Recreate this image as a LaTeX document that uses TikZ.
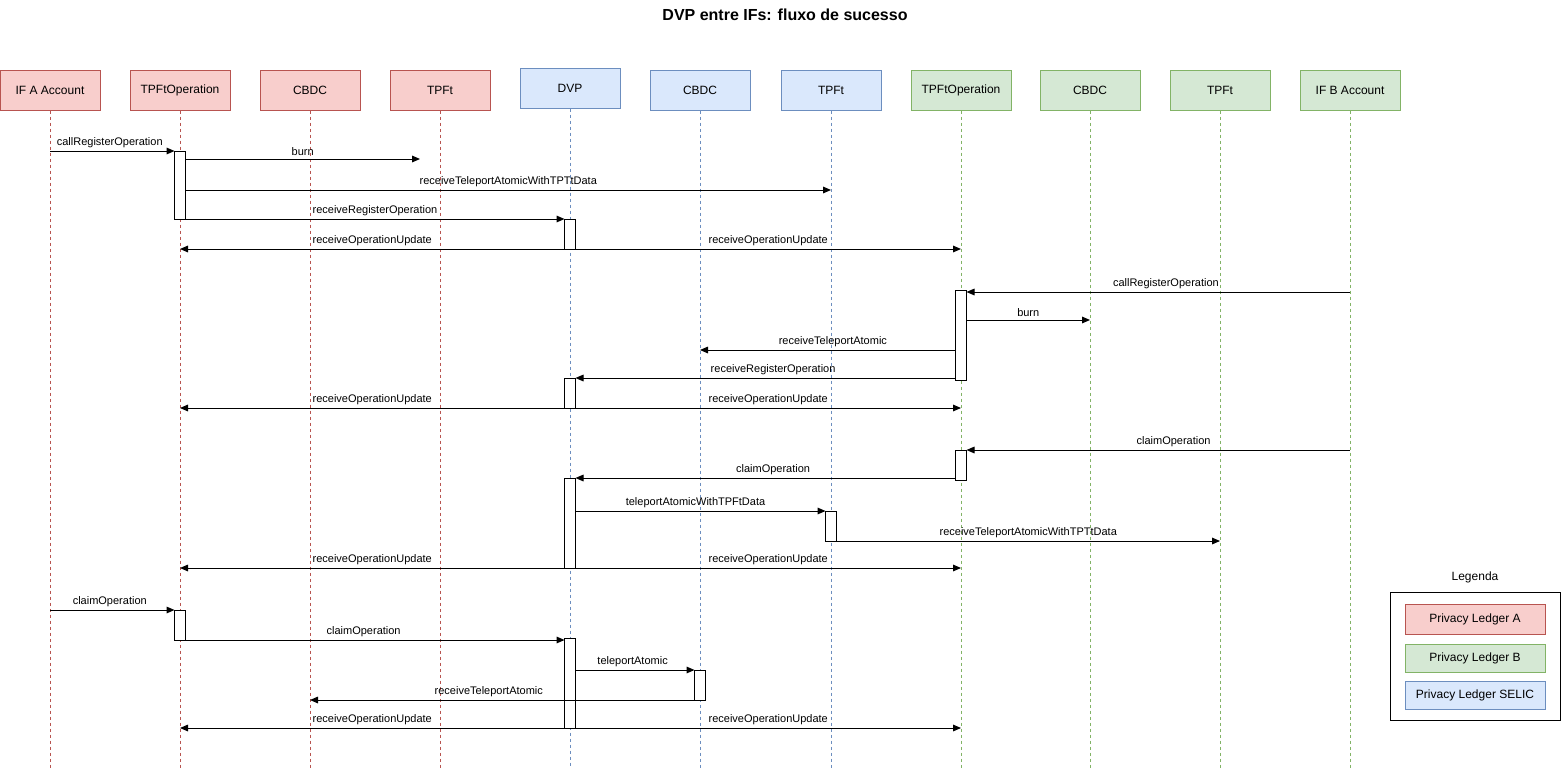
\documentclass[tikz,border=0pt]{standalone}
\usepackage{fontspec}
\setmainfont{Liberation Sans}
\usepackage{xcolor}
\definecolor{ledgerAfill}{HTML}{F8CECC}
\definecolor{ledgerAline}{HTML}{B85450}
\definecolor{ledgerBfill}{HTML}{D5E8D4}
\definecolor{ledgerBline}{HTML}{82B366}
\definecolor{selicfill}{HTML}{DAE8FC}
\definecolor{selicline}{HTML}{6C8EBF}
\usepackage{tikz}
\usetikzlibrary{positioning, arrows.meta, calc}

\begin{document}
\begin{tikzpicture}[x=0.75pt, y=-0.75pt, >={Triangle[length=6pt, width=5pt]}, line width=0.75pt,
    every node/.style={font=\fontsize{8.25}{10}\selectfont},
    head/.style={draw, rectangle, line width=0.75pt, minimum width=75pt, minimum height=30pt, font=\fontsize{9}{11}\selectfont},
    headA/.style={head, fill=ledgerAfill, draw=ledgerAline},
    headB/.style={head, fill=ledgerBfill, draw=ledgerBline},
    headS/.style={head, fill=selicfill, draw=selicline},
    life/.style={line width=0.6pt, dash pattern=on 2.25pt off 2.25pt},
    actbar/.style={draw=black, fill=white, line width=0.75pt, minimum width=8.25pt, inner sep=0pt, outer sep=0pt},
    msg/.style={->, black},
    lbl/.style={above, inner sep=2pt},
    legbox/.style={draw, rectangle, line width=0.75pt, minimum width=105pt, minimum height=21pt, font=\fontsize{9}{11}\selectfont}]
    \useasboundingbox (0,0) rectangle (1561,771);

    % Title
    \node [font=\bfseries\fontsize{12}{14}\selectfont] (title) at (785,15) {DVP entre IFs: fluxo de sucesso};

    % Lifeline heads: Privacy Ledger A
    \node [headA] (ifa) at (50,90) {IF A Account};
    \node [headA] (tpfopa) at (180,90) {TPFtOperation};
    \node [headA] (cbdca) at (310,90) {CBDC};
    \node [headA] (tpfa) at (440,90) {TPFt};

    % Lifeline heads: Privacy Ledger SELIC
    \node [headS] (dvp) at (570,88) {DVP};
    \node [headS] (cbdcs) at (700,90) {CBDC};
    \node [headS] (tpfs) at (831,90) {TPFt};

    % Lifeline heads: Privacy Ledger B
    \node [headB] (tpfopb) at (961,90) {TPFtOperation};
    \node [headB] (cbdcb) at (1090,90) {CBDC};
    \node [headB] (tpfb) at (1220,90) {TPFt};
    \node [headB] (ifb) at (1350,90) {IF B Account};

    % Dashed lifelines
    \coordinate (bottom) at (0,768);
    \foreach \h in {ifa, tpfopa, cbdca, tpfa}
        \draw [life, ledgerAline] (\h.south) -- (\h.south |- bottom);
    \foreach \h in {dvp, cbdcs, tpfs}
        \draw [life, selicline] (\h.south) -- (\h.south |- bottom);
    \foreach \h in {tpfopb, cbdcb, tpfb, ifb}
        \draw [life, ledgerBline] (\h.south) -- (\h.south |- bottom);

    % Activation bars
    \node [actbar, minimum height=51pt] (actA1) at (180,185) {};
    \node [actbar, minimum height=22.5pt] (actD1) at (570,234) {};
    \node [actbar, minimum height=67.5pt] (actB1) at (961,335) {};
    \node [actbar, minimum height=22.5pt] (actD2) at (570,393) {};
    \node [actbar, minimum height=22.5pt] (actB2) at (961,465) {};
    \node [actbar, minimum height=67.5pt] (actD3) at (570,523) {};
    \node [actbar, minimum height=22.5pt] (actS1) at (831,526) {};
    \node [actbar, minimum height=22.5pt] (actA2) at (180,625) {};
    \node [actbar, minimum height=67.5pt] (actD4) at (570,683) {};
    \node [actbar, minimum height=22.5pt] (actS2) at (700,685) {};

    % Phase 1: IF A registers the operation
    \coordinate (burnA) at (420,159);
    \draw [msg] (ifa |- actA1.north) -- node [lbl, pos=0.48] {callRegisterOperation} (actA1.north west);
    \draw [msg] (actA1.east |- burnA) -- node [lbl] {burn} (burnA);
    \draw [msg] (actA1.east |- 0,190) -- node [lbl] {receiveTeleportAtomicWithTPTtData} (tpfs |- 0,190);
    \draw [msg] (actA1.south east) -- node [lbl] {receiveRegisterOperation} (actD1.north west);
    \draw [msg] (actD1.south west) -- node [lbl] {receiveOperationUpdate} (tpfopa |- actD1.south);
    \draw [msg] (actD1.south east) -- node [lbl] {receiveOperationUpdate} (tpfopb |- actD1.south);

    % Phase 2: IF B registers the operation
    \draw [msg] (ifb |- 0,292) -- node [lbl, pos=0.48] {callRegisterOperation} (actB1.east |- 0,292);
    \draw [msg] (actB1.east |- 0,320) -- node [lbl] {burn} (cbdcb |- 0,320);
    \draw [msg] (actB1.west |- 0,350) -- node [lbl, pos=0.48] {receiveTeleportAtomic} (cbdcs |- 0,350);
    \draw [msg] (actB1.west |- actD2.north) -- node [lbl, pos=0.48] {receiveRegisterOperation} (actD2.north east);
    \draw [msg] (actD2.south west) -- node [lbl] {receiveOperationUpdate} (tpfopa |- actD2.south);
    \draw [msg] (actD2.south east) -- node [lbl] {receiveOperationUpdate} (tpfopb |- actD2.south);

    % Phase 3: IF B claims
    \draw [msg] (ifb |- actB2.north) -- node [lbl, pos=0.46] {claimOperation} (actB2.north east);
    \draw [msg] (actB2.west |- actD3.north) -- node [lbl, pos=0.48] {claimOperation} (actD3.north east);
    \draw [msg] (actD3.east |- actS1.north) -- node [lbl, pos=0.48] {teleportAtomicWithTPFtData} (actS1.north west);
    \draw [msg] (actS1.south east) -- node [lbl] {receiveTeleportAtomicWithTPTtData} (tpfb |- actS1.south);
    \draw [msg] (actD3.south west) -- node [lbl] {receiveOperationUpdate} (tpfopa |- actD3.south);
    \draw [msg] (actD3.south east) -- node [lbl] {receiveOperationUpdate} (tpfopb |- actD3.south);

    % Phase 4: IF A claims
    \draw [msg] (ifa |- actA2.north) -- node [lbl, pos=0.48] {claimOperation} (actA2.north west);
    \draw [msg] (actA2.south east) -- node [lbl, pos=0.47] {claimOperation} (actD4.west |- actA2.south);
    \draw [msg] (actD4.east |- actS2.north) -- node [lbl, pos=0.48] {teleportAtomic} (actS2.north west);
    \draw [msg] (actS2.south west) -- node [lbl, pos=0.535] {receiveTeleportAtomic} (cbdca |- actS2.south);
    \draw [msg] (actD4.south west) -- node [lbl] {receiveOperationUpdate} (tpfopa |- actD4.south);
    \draw [msg] (actD4.south east) -- node [lbl] {receiveOperationUpdate} (tpfopb |- actD4.south);

    % Legend
    \node [font=\fontsize{9}{11}\selectfont] (legtitle) at (1475,577) {Legenda};
    \node [draw, rectangle, line width=0.75pt, minimum width=127.5pt, minimum height=96pt] (legend) at (1475,656) {};
    \node [legbox, fill=ledgerAfill, draw=ledgerAline, minimum height=22.5pt] (legA) at (1475,619) {Privacy Ledger A};
    \node [legbox, fill=ledgerBfill, draw=ledgerBline] (legB) at (1475,658) {Privacy Ledger B};
    \node [legbox, fill=selicfill, draw=selicline] (legS) at (1475,695) {Privacy Ledger SELIC};
\end{tikzpicture}
\end{document}
